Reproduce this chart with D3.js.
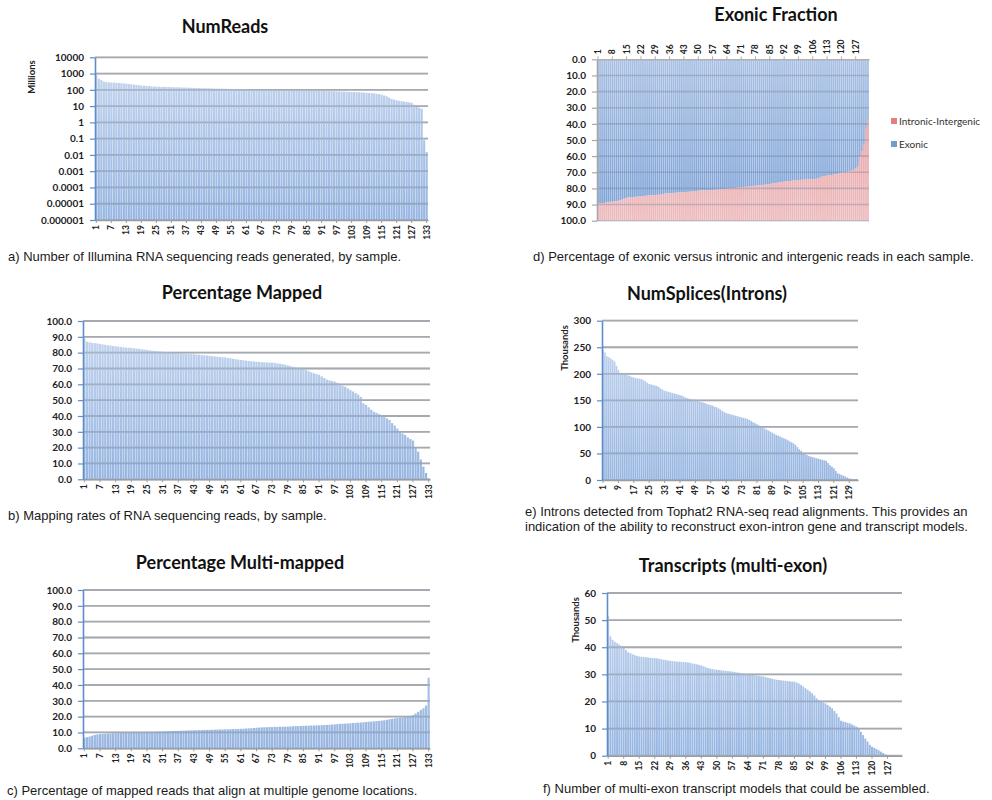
<!DOCTYPE html>
<html>
<head>
<meta charset="utf-8">
<script src="https://cdn.jsdelivr.net/npm/d3@7"></script>
<style>
  html, body { margin: 0; padding: 0; background: #fff; }
  svg { display: block; }
  .ttl { font-family: Lato, "Open Sans", sans-serif; font-weight: 700; font-size: 18px; fill: #111; }
  .cap { font-family: "Liberation Sans", Arial, sans-serif; font-size: 13px; fill: #1a1a1a; }
  .ylab text { font-family: Lato, sans-serif; font-weight: 700; font-size: 10px; fill: #222; }
  .xlab text { font-family: Lato, sans-serif; font-weight: 700; font-size: 8.5px; fill: #222; }
  .unit { font-family: Lato, sans-serif; font-weight: 700; font-size: 9.5px; fill: #222; }
  .leg { font-family: Lato, sans-serif; font-size: 10px; fill: #333; }
</style>
</head>
<body>
<svg id="fig" width="992" height="800"></svg>
<script>
// Sample identifiers (categories shared by all six panels)
const samples = d3.range(1, 134);

// x tick labels
const xTicksEvery6 = [1,7,13,19,25,31,37,43,49,55,61,67,73,79,85,91,97,103,109,115,121,127,133];
const xTicksEvery7 = [1,8,15,22,29,36,43,50,57,64,71,78,85,92,99,106,113,120,127];
const xTicksEvery8 = [1,9,17,25,33,41,49,57,65,73,81,89,97,105,113,121,129];

// y tick values and labels
const readsTicks = [1e-6,1e-5,1e-4,1e-3,1e-2,1e-1,1,10,100,1000,10000];
const readsLabels = ["0.000001","0.00001","0.0001","0.001","0.01","0.1","1","10","100","1000","10000"];
const pctTicks = [0,10,20,30,40,50,60,70,80,90,100];
const pctLabels = ["0.0","10.0","20.0","30.0","40.0","50.0","60.0","70.0","80.0","90.0","100.0"];
const spliceTicks = [0,50,100,150,200,250,300];
const transTicks = [0,10,20,30,40,50,60];

// a) number of reads per sample (millions)
const numReads = [800,480,400,330,300,290,280,275,270,265,255,245,240,230,220,210,200,195,185,180,
  175,170,165,160,158,155,152,150,150,148,146,145,143,142,140,138,137,135,134,132,
  130,129,128,126,125,124,122,121,120,119,118,117,116,115,114,113,112,111,110,109,
  108,107,106,106,105,104,103,103,102,101,100,100,99,98,98,97,96,96,95,94,
  94,93,92,92,91,90,90,89,88,87,87,86,85,84,83,82,81,80,79,78,
  77,75,74,73,72,71,70,68,66,64,62,60,57,54,50,45,40,33,28,25,
  23,21,20,19,18,17,16,12,9,8,7,0.08,0.015];

// b) percentage of reads mapped
const pctMapped = [89,87,86.5,86.2,86,85.8,85.5,85.2,85,84.7,84.5,84.2,84,83.8,83.6,83.4,83.2,83.1,83,82.8,
  82.6,82.4,82.2,82,81.7,81.5,81.3,81.1,80.9,80.8,80.6,80.4,80.3,80.1,80,79.8,79.6,79.5,79.4,79.3,
  79.2,79.1,79,78.8,78.7,78.5,78.3,78.2,78,77.8,77.6,77.5,77.3,77.1,77,76.7,76.4,76.2,75.9,75.6,
  75.4,75.2,75,74.8,74.6,74.4,74.3,74.1,74,73.9,73.8,73.7,73.7,73.5,73.3,73,72.7,72.4,72,71.5,
  71,70.7,70.3,70,69.7,69,68.3,67.6,67,66.5,66,65,64,63,62.5,62,61.7,61,60,59,
  58.5,57.5,56.4,55.5,54.5,53.5,52,48,47,45.5,44,42.7,42,41.3,40.6,39.5,38.5,37.5,35.5,34,
  32,30.5,29,28,26.5,25.5,24.5,19.6,17.5,12.5,8,4,0.6];

// c) percentage of mapped reads that are multi-mapped
const pctMulti = [6.7,7,7.4,8,8.5,8.8,9,9.1,9.2,9.3,9.4,9.5,9.5,9.6,9.6,9.7,9.7,9.8,9.8,9.9,
  9.9,10,10,10,10.1,10.2,10.2,10.3,10.4,10.5,10.5,10.6,10.7,10.8,10.9,11,11,11.1,11.1,11.2,
  11.3,11.3,11.4,11.4,11.5,11.5,11.6,11.6,11.7,11.7,11.8,11.8,11.9,11.9,12,12,12.1,12.1,12.2,12.2,
  12.3,12.4,12.5,12.6,12.7,12.8,13,13.1,13.2,13.3,13.3,13.4,13.4,13.5,13.5,13.6,13.6,13.7,13.7,13.8,
  13.9,14,14,14.1,14.2,14.3,14.3,14.4,14.4,14.5,14.5,14.6,14.7,14.8,14.9,15,15.1,15.3,15.4,15.5,
  15.6,15.7,15.8,16,16.1,16.2,16.3,16.5,16.6,16.8,16.9,17,17.2,17.3,17.5,17.7,18,18.3,18.6,18.9,
  19.1,19.3,19.5,19.7,19.9,20.4,21,22,23,24.2,25.3,27,44.6];

// d) exonic percentage (remainder is intronic-intergenic)
const exonic = [89.5,89.3,89.2,89,88.6,88.4,88.3,88.2,88.1,88,87.6,87.2,86.8,86.3,85.8,85.6,85.5,85.4,85.2,85.1,
  85,84.8,84.7,84.6,84.5,84.4,84.3,84.2,84.1,84,83.8,83.6,83.4,83.2,83.1,83,82.9,82.8,82.7,82.6,
  82.5,82.4,82.3,82.2,82.1,82,81.8,81.7,81.6,81.4,81.3,81.2,81.2,81.1,81.1,81,81,80.8,80.7,80.6,
  80.5,80.4,80.3,80.2,80.1,80,79.8,79.7,79.6,79.4,79.3,79.2,79,78.9,78.8,78.6,78.5,78.3,78.2,78.1,
  78,77.8,77.6,77.5,77.3,77,76.8,76.6,76.4,76.2,76,75.8,75.6,75.5,75.4,75.2,75.1,75,74.8,74.7,
  74.6,74.5,74.4,74.3,74.3,74.2,74.1,74,73.5,72.8,72.6,72.4,72.1,71.9,71.7,71.5,71.3,71,70.6,70.2,
  70,69.8,69.6,69.3,69,68.5,67.6,66.5,60,57,53,43,37.5];
const intronic = exonic.map(v => +(100 - v).toFixed(1));

// e) splice junctions detected (thousands)
const numSplices = [245,240,233,231,229,226,223,215,207,201,200,199,198,197,196,194,193,192,191,191,
  190,188,186,183,181,180,179,178,177,175,172,170,168,167,166,165,164,163,162,161,
  160,159,157,155,154,153,152,151.5,151,150,148,147,146,145,143,142,141,140,138,137,
  135,133,130,128,126,125,124,123,122,121,120,119,118,117,116,115,113,111,109,107,
  105,103,101,99,97,95,93,91,89,87,85,83.5,82,80,78.5,77,75,73,71,69,
  66,62,58,55,50,49,47,45,44,43,42,41,40,39,38,37,36,32,28,25,
  22,17,12.6,11,9.4,8,6.3,4.5,3,2,1.2,0.8,0.5];

// f) multi-exon transcripts assembled (thousands)
const transcripts = [51.4,44,42.7,42,41.5,41,40.3,39.7,39,38.2,37.8,37.4,37.1,36.8,36.6,36.5,36.4,36.3,36.2,36.1,
  36,36,35.9,35.7,35.6,35.4,35.3,35.1,35,34.9,34.8,34.7,34.7,34.6,34.5,34.5,34.4,34.2,34,33.9,
  33.7,33.5,33.3,33,32.6,32.3,32.1,32,31.8,31.7,31.6,31.5,31.4,31.3,31.2,31.1,31,30.9,30.7,30.6,
  30.4,30.3,30.1,30,29.9,29.8,29.7,29.6,29.4,29.3,29.2,29,28.8,28.6,28.4,28.2,28,27.9,27.8,27.7,
  27.6,27.5,27.4,27.3,27.3,27,26.6,26.1,25.5,24.9,24.3,23.7,23,22.2,21.2,20.5,20,19.6,19.3,18.7,
  18.1,17.5,16.5,15.6,14.2,12.9,12.6,12.4,12.1,11.9,11.5,11.1,10.7,9.8,8.8,7.6,6.3,5.2,4,3.3,
  2.9,2.5,2,1.5,1,0.5,0.3,0.2,0.1,0.1,0.05,0.05,0.05];

const svg = d3.select("#fig");
const defs = svg.append("defs");

function vGradient(id, y1, y2, top, bottom) {
  const g = defs.append("linearGradient").attr("id", id)
    .attr("gradientUnits", "userSpaceOnUse")
    .attr("x1", 0).attr("x2", 0).attr("y1", y1).attr("y2", y2);
  g.append("stop").attr("offset", "0%").attr("stop-color", top);
  g.append("stop").attr("offset", "100%").attr("stop-color", bottom);
}

function styleLeftAxis(sel, color) {
  sel.select(".domain").attr("stroke", color).attr("stroke-width", 1.6);
  sel.selectAll(".tick line").attr("stroke", color).attr("stroke-width", 1.2);
}

// Column chart with a vertical axis on the left and sample labels below
function columnPanel(cfg) {
  const g = svg.append("g");
  const x = d3.scaleBand().domain(samples).range([cfg.x0, cfg.x1]).paddingInner(0.14).paddingOuter(0.1);
  const y = (cfg.log ? d3.scaleLog() : d3.scaleLinear()).domain(cfg.domain).range([cfg.yBot, cfg.yTop]);

  g.append("text").attr("class", "ttl").attr("x", cfg.titleX).attr("y", cfg.titleY)
    .attr("text-anchor", "middle").text(cfg.title);

  g.append("g").selectAll("line").data(cfg.yTicks).join("line")
    .attr("x1", cfg.x0).attr("x2", cfg.x1)
    .attr("y1", d => y(d)).attr("y2", d => y(d))
    .attr("stroke", "#b4b4b4").attr("stroke-width", 1.8);

  vGradient(cfg.id + "-fill", cfg.yTop, cfg.yBot, "#bfd2ed", "#8badde");
  g.append("g").selectAll("rect").data(cfg.values).join("rect")
    .attr("x", (d, i) => x(samples[i]))
    .attr("width", x.bandwidth())
    .attr("y", d => y(d))
    .attr("height", d => cfg.yBot - y(d))
    .attr("fill", `url(#${cfg.id}-fill)`)
    .attr("fill-opacity", 0.9);

  // grid shows faintly through the columns
  g.append("g").selectAll("line").data(cfg.yTicks.slice(1)).join("line")
    .attr("x1", cfg.x0).attr("x2", cfg.x1)
    .attr("y1", d => y(d)).attr("y2", d => y(d))
    .attr("stroke", "#8c96a6").attr("stroke-opacity", 0.35).attr("stroke-width", 1.8);

  const xa = g.append("g").attr("class", "xlab").attr("transform", `translate(0,${cfg.yBot})`)
    .call(d3.axisBottom(x).tickValues(cfg.xTicks).tickSize(3).tickSizeOuter(0));
  xa.select(".domain").attr("stroke", "#9c9c9c").attr("stroke-width", 1.6);
  xa.selectAll(".tick line").attr("stroke", "#9c9c9c");
  xa.selectAll(".tick text")
    .attr("transform", "rotate(-90)")
    .attr("x", -5).attr("y", 0).attr("dy", "0.35em")
    .attr("text-anchor", "end");

  const ya = g.append("g").attr("class", "ylab").attr("transform", `translate(${cfg.x0},0)`)
    .call(d3.axisLeft(y).tickValues(cfg.yTicks)
      .tickFormat((d, i) => cfg.yLabels[i]).tickSize(5).tickPadding(6).tickSizeOuter(0));
  styleLeftAxis(ya, "#5d8ccc");

  if (cfg.unit) {
    g.append("text").attr("class", "unit")
      .attr("transform", `translate(${cfg.unitX},${cfg.unitY}) rotate(-90)`)
      .attr("text-anchor", "middle").attr("dy", "0.35em").text(cfg.unit);
  }

  cfg.caption.forEach((line, k) => {
    g.append("text").attr("class", "cap").attr("x", cfg.capX).attr("y", cfg.capY + k * 15).text(line);
  });
}

columnPanel({
  id: "reads", title: "NumReads", titleX: 225, titleY: 33,
  x0: 95, x1: 428, yTop: 57.3, yBot: 220, log: true, domain: [1e-6, 1e4],
  values: numReads, yTicks: readsTicks, yLabels: readsLabels, xTicks: xTicksEvery6,
  unit: "Millions", unitX: 32, unitY: 77,
  caption: ["a) Number of Illumina RNA sequencing reads generated, by sample."], capX: 8, capY: 261
});

columnPanel({
  id: "mapped", title: "Percentage Mapped", titleX: 242, titleY: 299,
  x0: 83, x1: 430, yTop: 321, yBot: 479.3, domain: [0, 100],
  values: pctMapped, yTicks: pctTicks, yLabels: pctLabels, xTicks: xTicksEvery6,
  caption: ["b) Mapping rates of RNA sequencing reads, by sample."], capX: 8, capY: 520
});

columnPanel({
  id: "multi", title: "Percentage Multi-mapped", titleX: 240, titleY: 569,
  x0: 83, x1: 430, yTop: 590, yBot: 748.3, domain: [0, 100],
  values: pctMulti, yTicks: pctTicks, yLabels: pctLabels, xTicks: xTicksEvery6,
  caption: ["c) Percentage of mapped reads that align at multiple genome locations."], capX: 7, capY: 795
});

columnPanel({
  id: "splices", title: "NumSplices(Introns)", titleX: 707, titleY: 300,
  x0: 602, x1: 858, yTop: 320.7, yBot: 480, domain: [0, 300],
  values: numSplices, yTicks: spliceTicks, yLabels: spliceTicks.map(String), xTicks: xTicksEvery8,
  unit: "Thousands", unitX: 565, unitY: 348,
  caption: ["e) Introns detected from Tophat2 RNA-seq read alignments. This provides an",
            "indication of the ability to reconstruct exon-intron gene and transcript models."],
  capX: 525, capY: 516
});

columnPanel({
  id: "trans", title: "Transcripts (multi-exon)", titleX: 733, titleY: 572,
  x0: 607, x1: 902, yTop: 593, yBot: 755.7, domain: [0, 60],
  values: transcripts, yTicks: transTicks, yLabels: transTicks.map(String), xTicks: xTicksEvery7,
  unit: "Thousands", unitX: 576, unitY: 620,
  caption: ["f) Number of multi-exon transcript models that could be assembled."], capX: 543, capY: 793
});

// d) 100% stacked columns on a reversed axis: exonic from the top, intronic below it
(function exonicPanel() {
  const x0 = 597, x1 = 869, yTop = 59.3, yBot = 220.7;
  const g = svg.append("g");
  const x = d3.scaleBand().domain(samples).range([x0, x1]).paddingInner(0.2).paddingOuter(0.1);
  const y = d3.scaleLinear().domain([0, 100]).range([yTop, yBot]);

  g.append("text").attr("class", "ttl").attr("x", 776).attr("y", 21)
    .attr("text-anchor", "middle").text("Exonic Fraction");

  g.append("rect").attr("x", x0).attr("y", yTop).attr("width", x1 - x0).attr("height", yBot - yTop)
    .attr("fill", "#e6ecf5");

  vGradient("exon-fill", yTop, yBot, "#a9c1e4", "#7aa0d5");
  vGradient("intron-fill", yTop, yBot, "#e99494", "#f2baba");

  const stacked = d3.stack().keys(["exonic", "intronic"])(
    samples.map((s, i) => ({ s, exonic: exonic[i], intronic: intronic[i] })));

  g.append("g").selectAll("rect").data(stacked[0]).join("rect")
    .attr("x", d => x(d.data.s)).attr("width", x.bandwidth())
    .attr("y", d => y(d[0])).attr("height", d => y(d[1]) - y(d[0]))
    .attr("fill", "url(#exon-fill)");
  g.append("g").selectAll("rect").data(stacked[1]).join("rect")
    .attr("x", d => x(d.data.s)).attr("width", x.bandwidth())
    .attr("y", d => y(d[0])).attr("height", d => y(d[1]) - y(d[0]))
    .attr("fill", "url(#intron-fill)");

  g.append("g").selectAll("line").data(pctTicks.slice(1)).join("line")
    .attr("x1", x0).attr("x2", x1).attr("y1", d => y(d)).attr("y2", d => y(d))
    .attr("stroke", "#6a7f9e").attr("stroke-opacity", 0.35).attr("stroke-width", 1.6);

  const xa = g.append("g").attr("class", "xlab").attr("transform", `translate(0,${yTop})`)
    .call(d3.axisTop(x).tickValues(xTicksEvery7).tickSize(3).tickSizeOuter(0));
  xa.select(".domain").attr("stroke", "#b0b0b0").attr("stroke-width", 1.4);
  xa.selectAll(".tick line").attr("stroke", "#b0b0b0");
  xa.selectAll(".tick text")
    .attr("transform", "rotate(-90)")
    .attr("x", 5).attr("y", 0).attr("dy", "0.35em")
    .attr("text-anchor", "start");

  const ya = g.append("g").attr("class", "ylab").attr("transform", `translate(${x0},0)`)
    .call(d3.axisLeft(y).tickValues(pctTicks).tickFormat((d, i) => pctLabels[i])
      .tickSize(5).tickPadding(6).tickSizeOuter(0));
  styleLeftAxis(ya, "#a8a8a8");

  const legend = [
    { name: "Intronic-Intergenic", color: "#e57e7e", y: 121 },
    { name: "Exonic", color: "#6f9ad4", y: 144 }
  ];
  const lg = g.append("g").selectAll("g").data(legend).join("g");
  lg.append("rect").attr("x", 891).attr("y", d => d.y - 3).attr("width", 6).attr("height", 6)
    .attr("fill", d => d.color);
  lg.append("text").attr("class", "leg").attr("x", 899).attr("y", d => d.y).attr("dy", "0.35em")
    .text(d => d.name);

  g.append("text").attr("class", "cap").attr("x", 533).attr("y", 261)
    .text("d) Percentage of exonic versus intronic and intergenic reads in each sample.");
})();
</script>
</body>
</html>
